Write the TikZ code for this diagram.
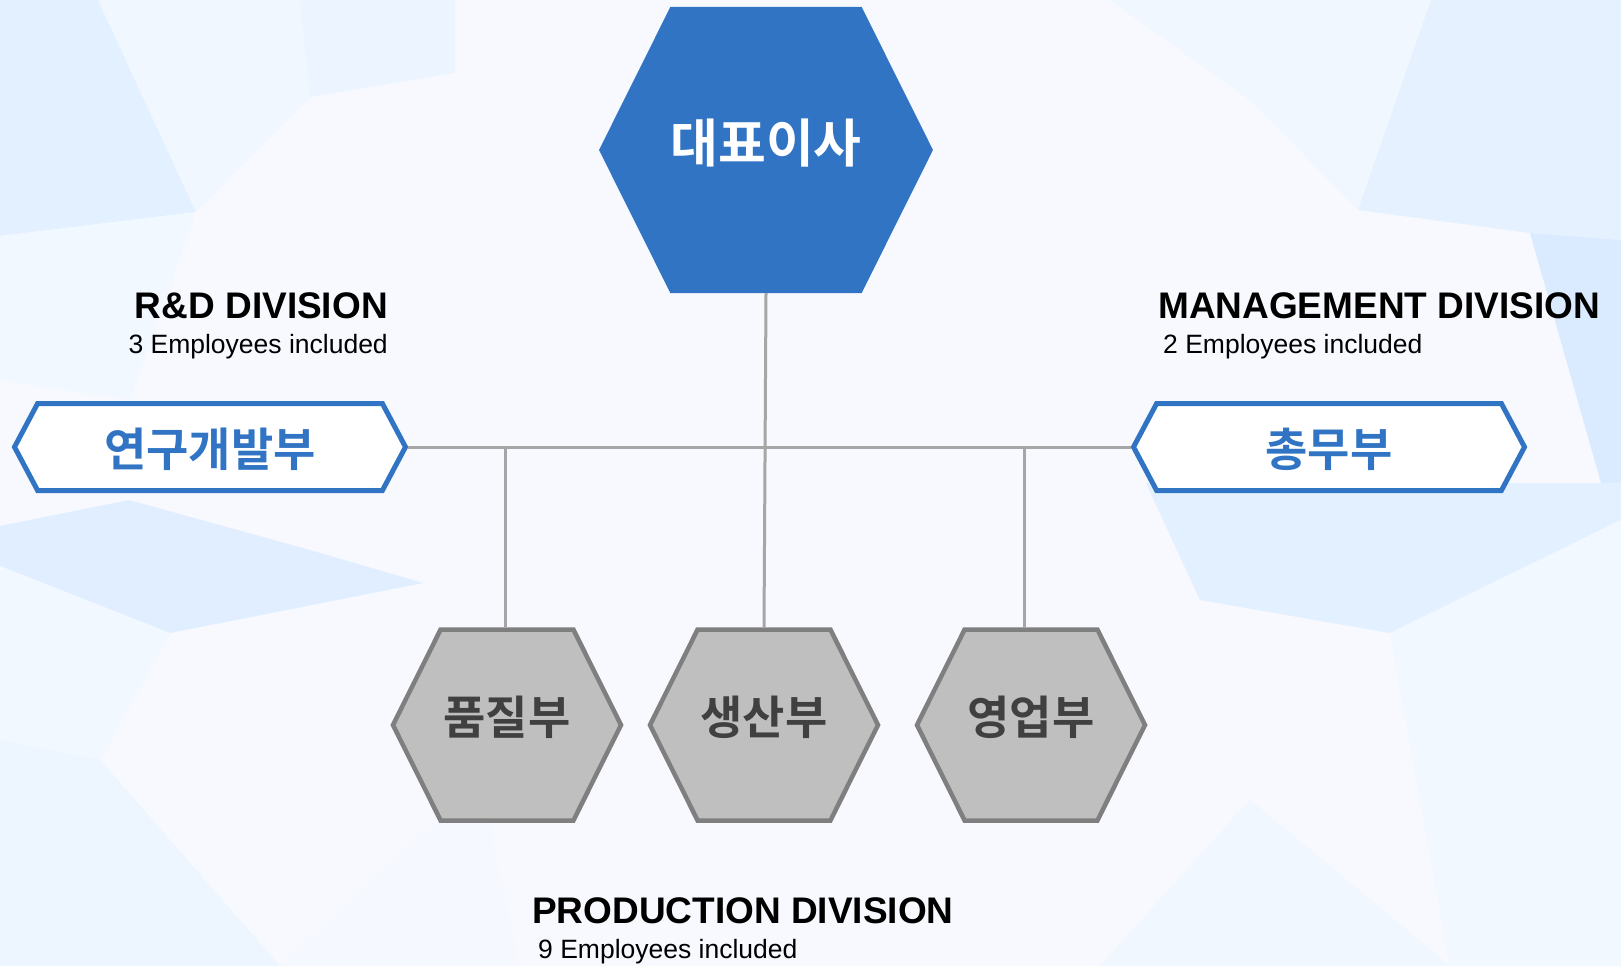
\documentclass[tikz,border=0pt]{standalone}
\usepackage{fontspec}
\setmainfont{Liberation Sans}
\newfontfamily\kofont{Noto Sans CJK KR Bold}
\usepackage{tikz}
\usetikzlibrary{positioning, shapes.symbols}

\begin{document}
\begin{tikzpicture}[x=1pt, y=-1pt,
    hexbox/.style={shape=signal, signal to=east and west, signal pointer angle=127,
                   inner sep=0pt, font=\kofont\fontsize{46}{46}\selectfont},
    ceo/.style={hexbox, fill=ceoC, text=white, minimum width=332pt, minimum height=286pt,
                font=\kofont\fontsize{52}{52}\selectfont, text height=42pt, text depth=18pt},
    dept/.style={hexbox, draw=deptL, line width=4.5pt, fill=deptC, text=deptT,
                 minimum width=228pt, minimum height=191pt, text height=37pt, text depth=19pt},
    banner/.style={hexbox, draw=ceoC, line width=5pt, fill=white, text=ceoC,
                   signal pointer angle=124, minimum width=391pt, minimum height=87pt,
                   text height=40pt, text depth=0.4pt},
    divtitle/.style={inner sep=0pt, font=\bfseries\fontsize{37}{37}\selectfont},
    divcount/.style={inner sep=0pt, font=\fontsize{26.5}{26.5}\selectfont},
    link/.style={draw=linkC, line width=3pt},
]

% Color definitions
\definecolor{ceoC}{RGB}{49,116,196}
\definecolor{deptC}{RGB}{191,191,191}
\definecolor{deptL}{RGB}{127,127,127}
\definecolor{deptT}{RGB}{64,64,64}
\definecolor{linkC}{RGB}{166,166,166}
\definecolor{bgC}{RGB}{247,249,254}
\colorlet{polyC}{blue!55!cyan}

% Background (low-poly pattern)
\useasboundingbox (0,0) rectangle (1621,966);
\fill[bgC] (0,0) rectangle (1621,966);
\fill[polyC!11] (0,0) -- (98,0) -- (196,212) -- (0,236) -- cycle;
\fill[polyC!6] (98,0) -- (300,0) -- (310,97) -- (196,212) -- cycle;
\fill[polyC!8] (300,0) -- (455,0) -- (455,73) -- (310,97) -- cycle;
\fill[polyC!5] (0,236) -- (196,212) -- (130,400) -- (0,380) -- cycle;
\fill[polyC!12] (0,526) -- (129,500) -- (310,550) -- (423,583) -- (170,633) -- (0,566) -- cycle;
\fill[polyC!5] (0,566) -- (170,633) -- (100,760) -- (0,740) -- cycle;
\fill[polyC!7] (0,740) -- (100,760) -- (280,966) -- (0,966) -- cycle;
\fill[polyC!4] (280,966) -- (480,780) -- (520,966) -- cycle;
\fill[polyC!6] (1110,0) -- (1431,0) -- (1358,210) -- (1250,100) -- cycle;
\fill[polyC!10] (1431,0) -- (1621,0) -- (1621,240) -- (1530,233) -- (1358,210) -- cycle;
\fill[polyC!14] (1530,233) -- (1621,240) -- (1621,483) -- (1601,483) -- cycle;
\fill[polyC!11] (1146,483) -- (1621,483) -- (1621,520) -- (1390,633) -- (1200,600) -- cycle;
\fill[polyC!5] (1390,633) -- (1621,520) -- (1621,966) -- (1450,966) -- cycle;
\fill[polyC!6] (1100,966) -- (1250,800) -- (1450,966) -- cycle;

% Nodes
\node[ceo] (ceo) at (766,150) {대표이사};

\node[banner] (rnd) at (210,447) {연구개발부};
\node[divtitle, anchor=base east] (rndtitle) at (388,318) {R\&D DIVISION};
\node[divcount, anchor=base east] (rndcount) at ([yshift=-35pt]rndtitle.base east) {3 Employees included};

\node[banner] (mgmt) at (1329,447) {총무부};
\node[divtitle, anchor=base west] (mgmttitle) at (1158,318) {MANAGEMENT DIVISION};
\node[divcount, anchor=base west] (mgmtcount) at ([xshift=5pt, yshift=-35pt]mgmttitle.base west) {2 Employees included};

\node[dept] (qa) at (507,725) {품질부};
\node[dept] (prod) at (764,725) {생산부};
\node[dept] (sales) at (1031,725) {영업부};
\node[divtitle, anchor=base west] (prodtitle) at (532,923) {PRODUCTION DIVISION};
\node[divcount, anchor=base west] (prodcount) at ([xshift=6pt, yshift=-35pt]prodtitle.base west) {9 Employees included};

% Connectors
\coordinate (hub) at (764,447);
\draw[link] (ceo.south) -- (prod.north);
\draw[link] (rnd.east) -- (mgmt.west);
\draw[link] ([xshift=-2pt]qa.north) -- ([xshift=-2pt]qa.north |- hub);
\draw[link] ([xshift=-7pt]sales.north) -- ([xshift=-7pt]sales.north |- hub);

\end{tikzpicture}
\end{document}
